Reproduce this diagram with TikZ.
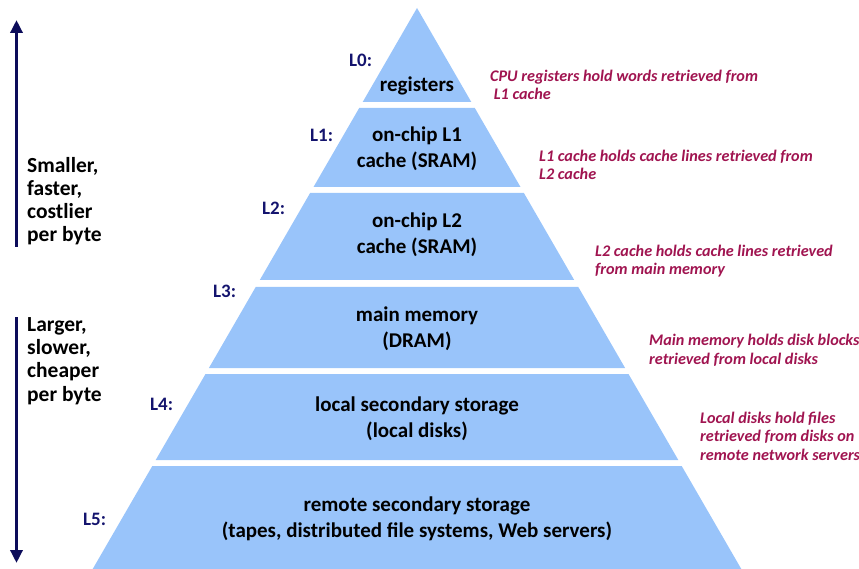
\documentclass[tikz,border=0pt]{standalone}
\usepackage{fontspec}
\setmainfont{Carlito}
\usetikzlibrary{arrows.meta}
\definecolor{layerblue}{RGB}{153,196,250}
\definecolor{navy}{RGB}{20,20,110}
\definecolor{arrownavy}{RGB}{12,12,90}
\definecolor{descred}{RGB}{160,20,80}
\tikzset{
  layer/.style={fill=layerblue, draw=none},
  lvl/.style={font=\fontsize{19}{21}\selectfont\bfseries, text=navy, inner sep=0pt, anchor=base west},
  main/.style={font=\fontsize{21}{26}\selectfont\bfseries, text=black, align=center, inner sep=0pt, anchor=base},
  desc/.style={font=\fontsize{16.2}{18.5}\selectfont\bfseries\itshape, text=descred, align=left, anchor=base west, inner sep=0pt},
  side/.style={font=\fontsize{21.5}{23.3}\selectfont\bfseries, text=black, align=left, anchor=base west, inner sep=0pt},
  bigarrow/.style={draw=arrownavy, line width=3.5pt, -{Triangle[width=12pt,length=13pt]}}
}
\begin{document}
\begin{tikzpicture}[x=1pt,y=-1pt]
\useasboundingbox (0,0) rectangle (859,569);
% layers
\fill[layer] (417,8) -- (471.3,102) -- (362.7,102) -- cycle;
\fill[layer] (359.2,108) -- (474.8,108) -- (520.5,187) -- (313.5,187) -- cycle;
\fill[layer] (310.1,193) -- (523.9,193) -- (574.2,280) -- (259.8,280) -- cycle;
\fill[layer] (255.7,287) -- (578.3,287) -- (625.1,368) -- (208.9,368) -- cycle;
\fill[layer] (205.5,374) -- (628.5,374) -- (678.3,460) -- (155.7,460) -- cycle;
\fill[layer] (152.3,466) -- (681.7,466) -- (741.3,569) -- (92.7,569) -- cycle;
% main texts (anchored at last baseline)
\node[main] (t0) at (417,92) {registers};
\node[main] (t1) at (417,168) {on-chip L1\\cache (SRAM)};
\node[main] (t2) at (417,254) {on-chip L2\\cache (SRAM)};
\node[main] (t3) at (417,347) {main memory\\(DRAM)};
\node[main] (t4) at (417,437) {local secondary storage\\(local disks)};
\node[main] (t5) at (417,537) {remote secondary storage\\(tapes, distributed file systems, Web servers)};
% level labels
\node[lvl] (l0) at (349,67) {L0:};
\node[lvl] (l1) at (310,142) {L1:};
\node[lvl] (l2) at (262,215) {L2:};
\node[lvl] (l3) at (213,298) {L3:};
\node[lvl] (l4) at (150,410) {L4:};
\node[lvl] (l5) at (83,525) {L5:};
% descriptions
\node[desc] (d0) at (490,100) {CPU registers hold words retrieved from\\\ L1 cache};
\node[desc] (d1) at (539,180) {L1 cache holds cache lines retrieved from\\L2 cache};
\node[desc] (d2) at (595,275) {L2 cache holds cache lines retrieved\\from main memory};
\node[desc] (d3) at (649,364) {Main memory holds disk blocks\\retrieved from local disks};
\node[desc] (d4) at (700,460) {Local disks hold files\\retrieved from disks on\\remote network servers};
% side texts and arrows
\node[side] (s1) at (27,242) {Smaller,\\faster,\\costlier\\per byte};
\node[side] (s2) at (27,401) {Larger,\\slower,\\cheaper\\per byte};
\coordinate (a1s) at (16.5,247);
\coordinate (a1e) at (16.5,20);
\coordinate (a2s) at (16.5,317);
\coordinate (a2e) at (16.5,563);
\draw[bigarrow] (a1s) -- (a1e);
\draw[bigarrow] (a2s) -- (a2e);
\end{tikzpicture}
\end{document}
